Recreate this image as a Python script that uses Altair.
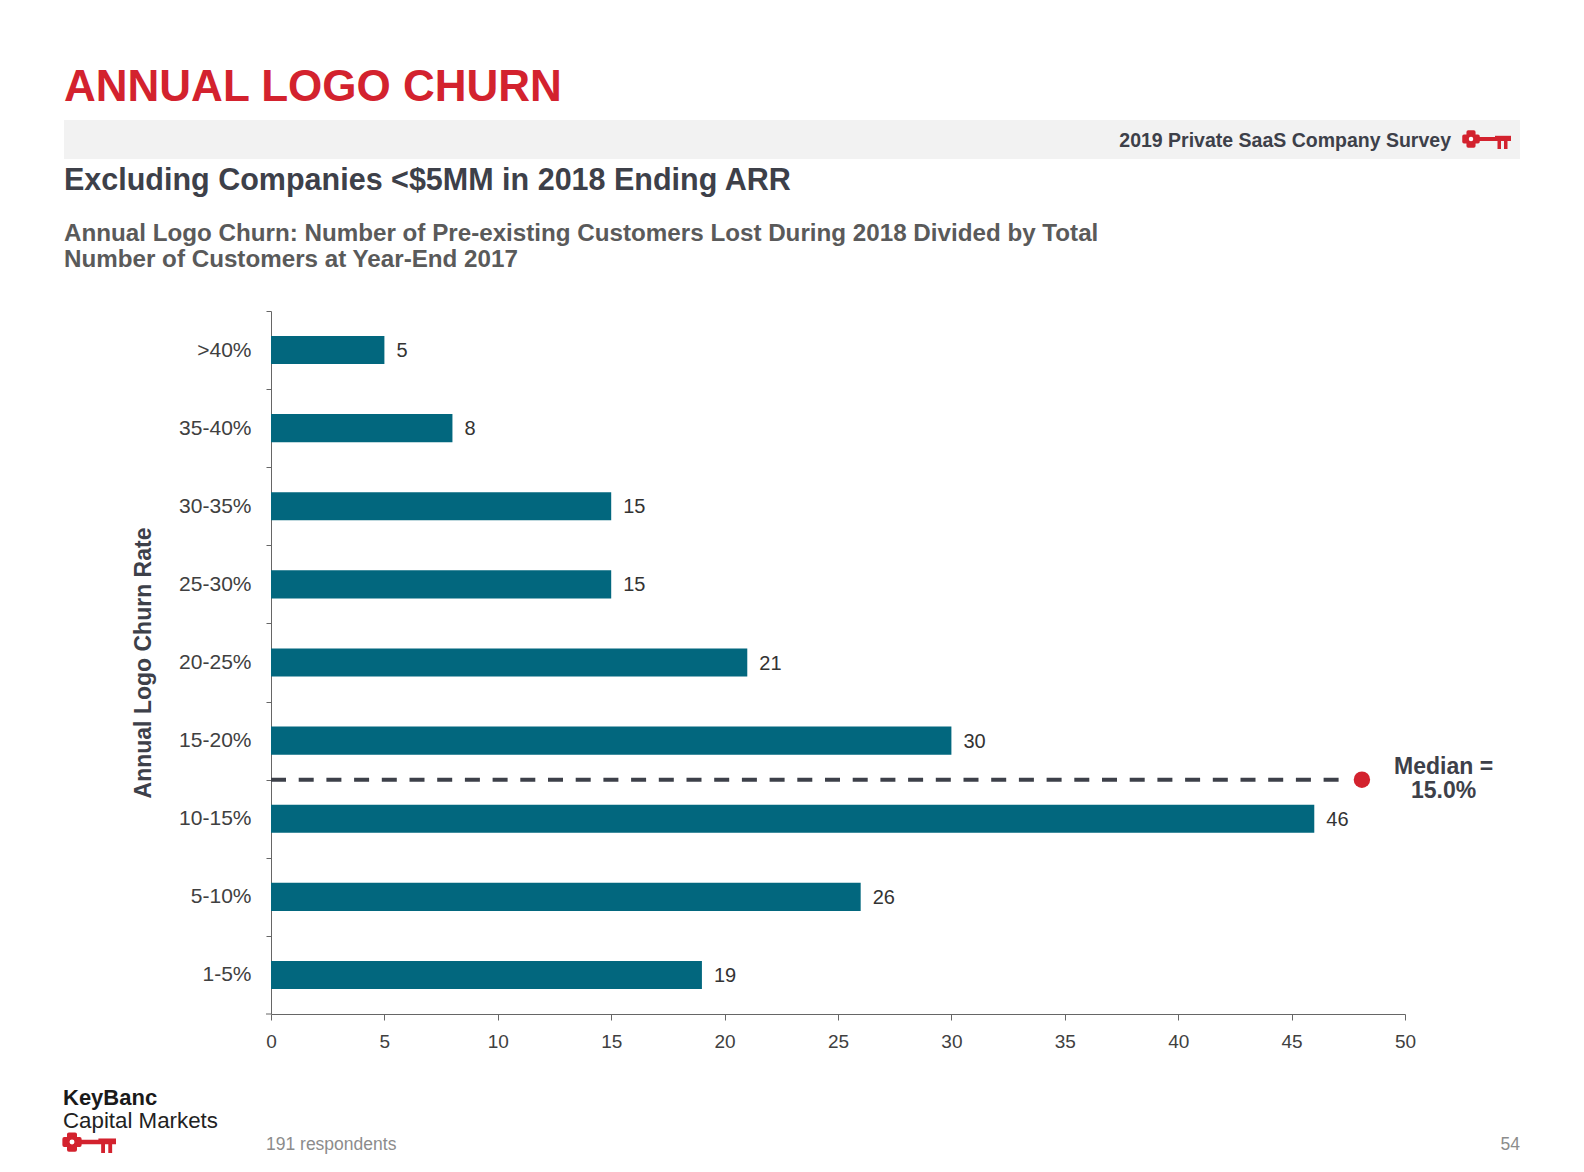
import altair as alt
import pandas as pd

# ---------------- data ----------------
categories = [">40%", "35-40%", "30-35%", "25-30%", "20-25%", "15-20%", "10-15%", "5-10%", "1-5%"]
counts = [5, 8, 15, 15, 21, 30, 46, 26, 19]
x_ticks = [0, 5, 10, 15, 20, 25, 30, 35, 40, 45, 50]

median_label = ["Median =", "15.0%"]
median_after_category = "15-20%"   # median line sits between 15-20% and 10-15%
median_line_start = 0
median_line_end = 47.3
median_dot_x = 48.1
median_label_x = 51.7

title_text = "ANNUAL LOGO CHURN"
subtitle_text = "Excluding Companies <$5MM in 2018 Ending ARR"
desc_lines = ["Annual Logo Churn: Number of Pre-existing Customers Lost During 2018 Divided by Total",
              "Number of Customers at Year-End 2017"]
survey_text = "2019 Private SaaS Company Survey"
brand_1 = "KeyBanc"
brand_2 = "Capital Markets"
respondents_text = "191 respondents"
page_no = "54"
y_title = "Annual Logo Churn Rate"

# ---------------- style ----------------
FONT = "Liberation Sans"
TEAL = "#02677E"
RED = "#D3222E"
DARK = "#3D4049"
GREY_TXT = "#5A5A5A"
AX = "#666666"
W, H = 1134, 703
OX, OY = 271, 311          # plot origin on the page
PAD_IN = 0.64
PAD_OUT = PAD_IN / 2
STEP = H / len(categories)
GAP_HALF = STEP * PAD_IN / 2   # from bar edge to band boundary

df = pd.DataFrame({"cat": categories, "n": counts})
one = pd.DataFrame({"a": [0]})

y_scale = alt.Scale(paddingInner=PAD_IN, paddingOuter=PAD_OUT)
y_axis = alt.Axis(title=y_title, titleFontSize=23, titleFontWeight="bold", titleColor=DARK,
                  titlePadding=23, labelFontSize=21, labelColor="#404040", labelPadding=15,
                  tickSize=5, tickColor=AX, domainColor=AX, tickOffset=-STEP / 2,
                  labelOffset=STEP / 2, labelFont=FONT, titleFont=FONT)
x_axis = alt.Axis(title=None, values=x_ticks, labelFontSize=19, labelColor="#404040",
                  labelPadding=12, tickSize=6, tickColor=AX, domainColor=AX,
                  grid=False, labelFont=FONT, labelFlush=False)

bars = alt.Chart(df).mark_bar(color=TEAL).encode(
    x=alt.X("n:Q", scale=alt.Scale(domain=[0, 50], nice=False), axis=x_axis),
    y=alt.Y("cat:N", sort=categories, scale=y_scale, axis=y_axis),
)
values = alt.Chart(df).mark_text(align="left", baseline="middle", dx=12, dy=1, fontSize=20,
                                 color="#333333", font=FONT).encode(
    x="n:Q", y=alt.Y("cat:N", sort=categories), text="n:Q")

med = pd.DataFrame({"cat": [median_after_category], "x0": [median_line_start],
                    "x1": [median_line_end], "xd": [median_dot_x], "xl": [median_label_x]})
med_y = alt.Y("cat:N", sort=categories, bandPosition=1)
med_rule = alt.Chart(med).mark_rule(color=DARK, strokeWidth=4, strokeDash=[15, 12.7],
                                    yOffset=GAP_HALF).encode(x="x0:Q", x2="x1:Q", y=med_y)
med_dot = alt.Chart(med).mark_point(filled=True, color=RED, opacity=1, size=270,
                                    yOffset=GAP_HALF).encode(x="xd:Q", y=med_y)
med_txt = alt.Chart(med).mark_text(text=median_label, fontSize=23, fontWeight="bold",
                                   color=DARK, align="center", baseline="middle",
                                   lineHeight=24, font=FONT, yOffset=GAP_HALF, dy=-13).encode(
    x="xl:Q", y=med_y)

# small closing tick of the category axis at its bottom end
y_end_tick = alt.Chart(one).mark_rule(color=AX, strokeWidth=1).encode(
    x=alt.value(-5), x2=alt.value(0), y=alt.value(H))


# ---------------- page decoration helpers (page pixel coords) ----------------
def txt(s, px, py, size, color, weight="normal", align="left", line_height=None):
    kw = dict(text=s, fontSize=size, color=color, fontWeight=weight, align=align,
              baseline="alphabetic", font=FONT)
    if line_height:
        kw["lineHeight"] = line_height
    return alt.Chart(one).mark_text(**kw).encode(x=alt.value(px - OX), y=alt.value(py - OY))


def rect(x0, y0, x1, y1, color):
    return alt.Chart(one).mark_rect(color=color).encode(
        x=alt.value(x0 - OX), x2=alt.value(x1 - OX), y=alt.value(y0 - OY), y2=alt.value(y1 - OY))


def key(cx, cy, s):
    return [
        rect(cx + 6 * s, cy - 2 * s, cx + 40 * s, cy + 2 * s, RED),
        rect(cx + 24 * s, cy - 3.2 * s, cx + 40 * s, cy + 1 * s, RED),
        rect(cx + 26.5 * s, cy, cx + 30 * s, cy + 10 * s, RED),
        rect(cx + 33 * s, cy, cx + 36.5 * s, cy + 10 * s, RED),
        alt.Chart(one).mark_point(shape="cross", filled=True, color=RED, opacity=1,
                                  size=(14 * s) ** 2, stroke=RED, strokeWidth=3.5 * s,
                                  strokeJoin="round").encode(
            x=alt.value(cx - OX), y=alt.value(cy - OY)),
        alt.Chart(one).mark_point(shape="circle", filled=True, color="white", opacity=1,
                                  size=(4.5 * s) ** 2).encode(
            x=alt.value(cx - OX), y=alt.value(cy - OY)),
    ]


decor = [
    txt(title_text, 64, 101, 44, RED, "bold"),
    rect(64, 120, 1520, 159, "#F2F2F2"),
    txt(survey_text, 1451, 147, 19.5, DARK, "bold", align="right"),
    *key(1471, 139, 1.0),
    txt(subtitle_text, 64, 190, 30.5, DARK, "bold"),
    txt(desc_lines, 64, 241, 24.2, GREY_TXT, "bold", line_height=26),
    txt(brand_1, 63, 1105, 22, "#1A1A1A", "bold"),
    txt(brand_2, 63, 1128, 22.3, "#222222"),
    *key(72, 1142, 1.1),
    txt(respondents_text, 266, 1150, 17.5, "#8C8C8C"),
    txt(page_no, 1520, 1150, 17.5, "#8C8C8C", align="right"),
]

chart = alt.layer(bars, values, med_rule, med_dot, med_txt, y_end_tick, *decor).properties(
    width=W, height=H,
    padding={"left": OX - 8, "top": OY - 8, "right": 165, "bottom": 145},
    autosize=alt.AutoSizeParams(type="none"),
).configure(font=FONT).configure_view(stroke=None)

chart.save("out.html", embed_options={"renderer": "svg", "actions": False})
